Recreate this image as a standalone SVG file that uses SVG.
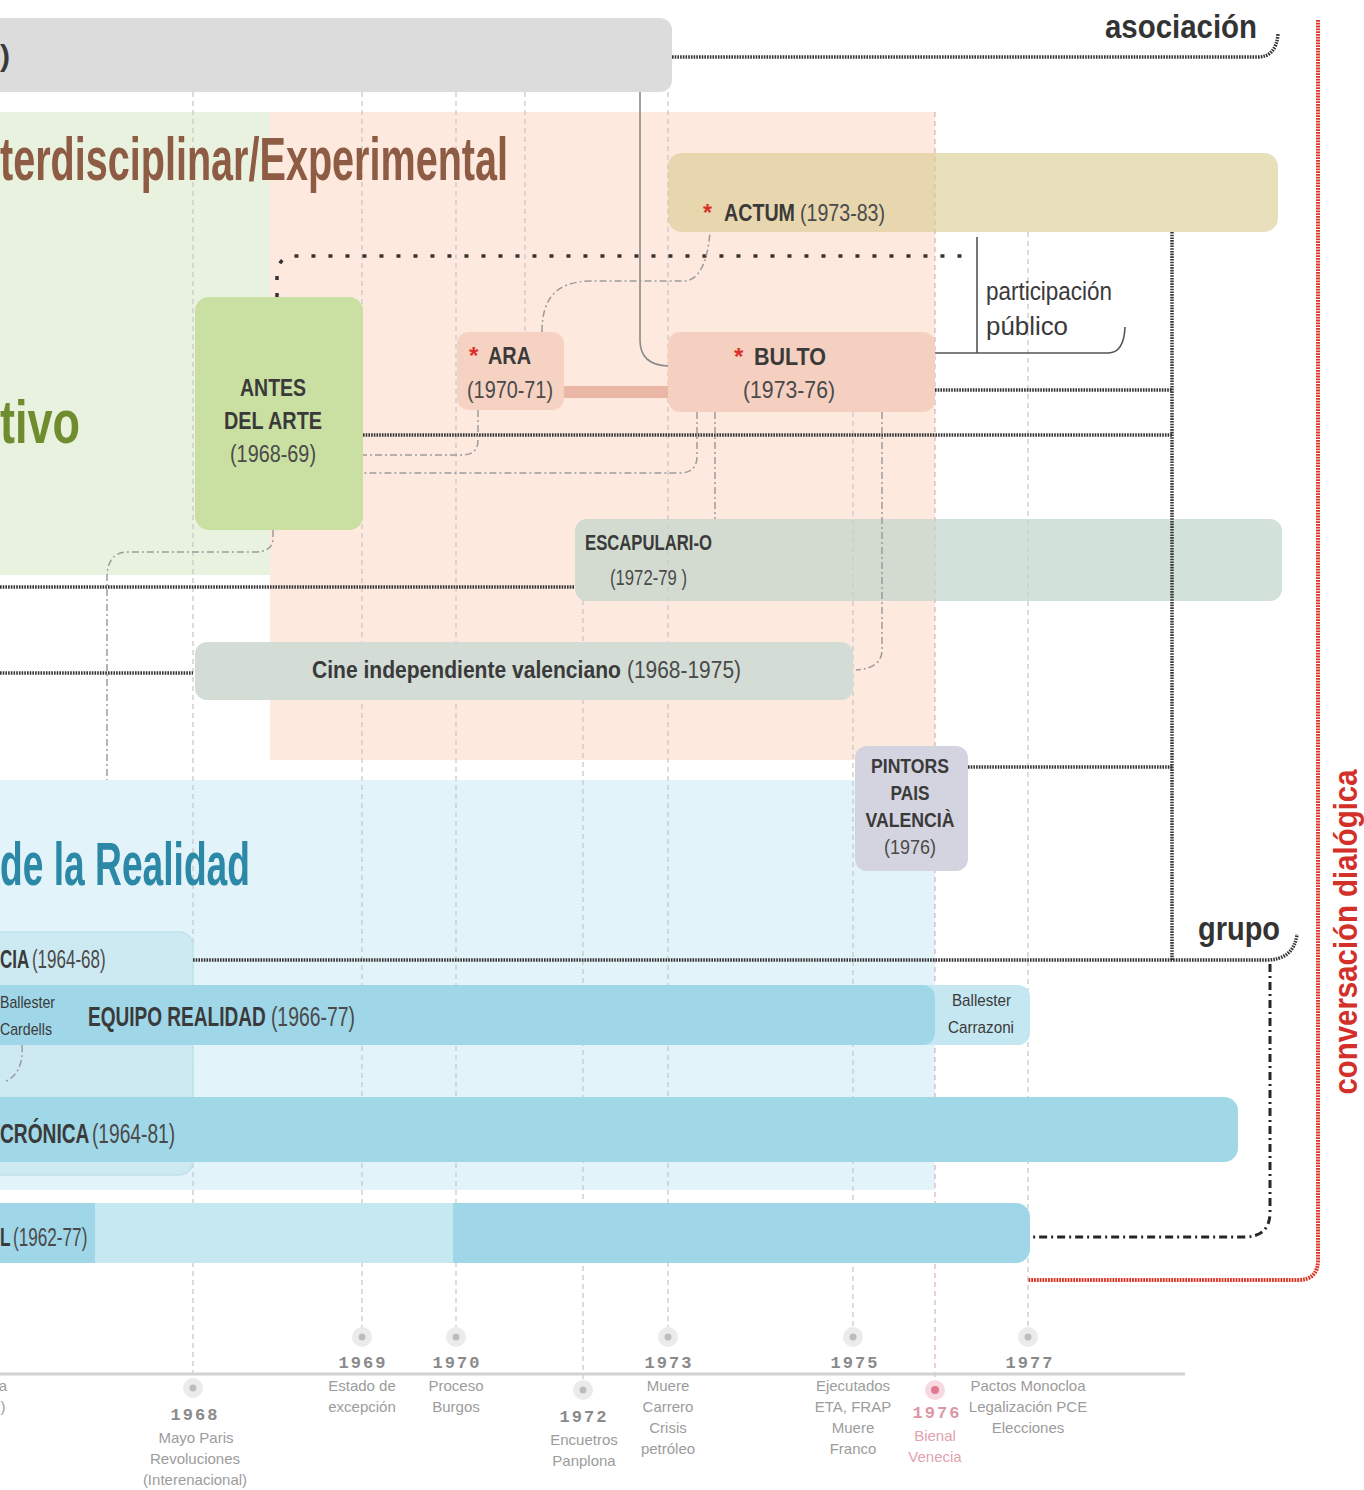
<svg xmlns="http://www.w3.org/2000/svg" width="1364" height="1490" viewBox="0 0 1364 1490">
<defs>
<style>
.t{font-family:"Liberation Sans",Arial,sans-serif;}
.bd{font-weight:bold;}
.lbl{fill:#3a3a3a;}
.rg{font-weight:normal;fill:#4a4a4a;}
.ast{fill:#d9302a;font-weight:bold;}
.mid{text-anchor:middle;}
.grid{fill:none;stroke:#c6c6c6;stroke-width:1.2;stroke-dasharray:5 4;}
.dot{fill:none;stroke:#343434;stroke-width:3.5;stroke-dasharray:1.6 1.1;}
.dd{fill:none;stroke:#9c9c9c;stroke-width:1.5;stroke-dasharray:7 3 2 3;}
.yr{font-family:"Liberation Mono","DejaVu Sans Mono",monospace;font-weight:bold;font-size:17px;fill:#8a8a8a;letter-spacing:2px;text-anchor:middle;}
.ev{font-family:"Liberation Sans",Arial,sans-serif;font-size:15px;fill:#9c9c9c;text-anchor:middle;}
.halo{fill:#ebebeb;}
.core{fill:#bdbdbd;}
</style>
</defs>
<rect x="0" y="0" width="1364" height="1490" fill="#ffffff"/>

<!-- zones -->
<g id="zones">
  <rect id="zone-green" x="0" y="112" width="270" height="463" fill="#e9f2de"/>
  <rect id="zone-pink" x="270" y="112" width="665" height="648" fill="#fde9de"/>
  <rect id="zone-blue" x="0" y="780" width="935" height="410" fill="#e2f3f9"/>
</g>

<!-- year grid lines -->
<g id="grid">
  <path class="grid" d="M193,92 V1380"/>
  <path class="grid" d="M362,92 V1328"/>
  <path class="grid" d="M456,92 V1328"/>
  <path class="grid" d="M525,92 V332"/>
  <path class="grid" d="M583,600 V1382"/>
  <path class="grid" d="M668,92 V1328"/>
  <path class="grid" d="M853,412 V1328"/>
  <path class="grid" d="M935,112 V1382" style="stroke:#d9b3bb"/>
  <path class="grid" d="M1028,232 V1328"/>
</g>

<!-- titles -->
<g id="titles" class="t bd">
  <text x="0" y="180" font-size="62" fill="#8e5b45" textLength="508" lengthAdjust="spacingAndGlyphs">terdisciplinar/Experimental</text>
  <text x="0" y="443" font-size="62" fill="#6f8d2f" textLength="80" lengthAdjust="spacingAndGlyphs">tivo</text>
  <text x="0" y="885" font-size="62" fill="#2b88a6" textLength="250" lengthAdjust="spacingAndGlyphs">de la Realidad</text>
</g>

<!-- nodes -->
<g id="node-asociacion-bar">
  <rect x="-20" y="18" width="692" height="74" rx="12" fill="#dcdcdc"/>
  <text class="t bd lbl" x="0" y="66" font-size="30">)</text>
</g>

<g id="node-actum">
  <rect x="668" y="153" width="610" height="79" rx="14" fill="#d9c98e" fill-opacity="0.6"/>
  <text class="t ast" x="703" y="221" font-size="23">*</text>
  <g transform="translate(724,221) scale(0.855,1)">
    <text class="t bd lbl" x="0" y="0" font-size="23" textLength="83" lengthAdjust="spacingAndGlyphs">ACTUM</text>
    <text class="t rg" x="88.9" y="0" font-size="23" textLength="99.4" lengthAdjust="spacingAndGlyphs">(1973-83)</text>
  </g>
</g>

<g id="node-antes">
  <rect x="195" y="297" width="168" height="233" rx="14" fill="#c9e0a2"/>
  <text class="t bd lbl mid" x="273" y="396" font-size="23" textLength="66" lengthAdjust="spacingAndGlyphs">ANTES</text>
  <text class="t bd lbl mid" x="273" y="429" font-size="23" textLength="98" lengthAdjust="spacingAndGlyphs">DEL ARTE</text>
  <text class="t rg mid" x="273" y="462" font-size="23" textLength="86" lengthAdjust="spacingAndGlyphs">(1968-69)</text>
</g>

<g id="node-ara">
  <rect x="457" y="332" width="107" height="78" rx="12" fill="#f6d2c2"/>
  <text class="t ast" x="469" y="364" font-size="24">*</text>
  <text class="t bd lbl" x="488" y="364" font-size="24" textLength="43" lengthAdjust="spacingAndGlyphs">ARA</text>
  <text class="t rg mid" x="510" y="398" font-size="24" textLength="86" lengthAdjust="spacingAndGlyphs">(1970-71)</text>
</g>

<g id="node-bulto">
  <rect x="668" y="332" width="267" height="80" rx="12" fill="#f5d0c1"/>
  <text class="t ast" x="734" y="365" font-size="24">*</text>
  <text class="t bd lbl" x="754" y="365" font-size="24" textLength="72" lengthAdjust="spacingAndGlyphs">BULTO</text>
  <text class="t rg mid" x="789" y="398" font-size="24" textLength="92" lengthAdjust="spacingAndGlyphs">(1973-76)</text>
</g>

<g id="node-escapulario">
  <rect x="575" y="519" width="707" height="82" rx="12" fill="#c0d4cc" fill-opacity="0.7"/>
  <text class="t bd lbl" x="585" y="550" font-size="22" textLength="127" lengthAdjust="spacingAndGlyphs">ESCAPULARI-O</text>
  <text class="t rg" x="610" y="585" font-size="22" textLength="77" lengthAdjust="spacingAndGlyphs">(1972-79 )</text>
</g>

<g id="node-cine">
  <rect x="195" y="642" width="658" height="58" rx="12" fill="#d3dcd5"/>
  <g transform="translate(312,678) scale(0.875,1)">
    <text class="t bd lbl" x="0" y="0" font-size="24" textLength="353" lengthAdjust="spacingAndGlyphs">Cine independiente valenciano</text>
    <text class="t rg" x="360" y="0" font-size="24" textLength="130.3" lengthAdjust="spacingAndGlyphs">(1968-1975)</text>
  </g>
</g>

<g id="node-pintors">
  <rect x="855" y="746" width="113" height="125" rx="12" fill="#d4d4e0"/>
  <text class="t bd lbl mid" x="910" y="773" font-size="21" textLength="78" lengthAdjust="spacingAndGlyphs">PINTORS</text>
  <text class="t bd lbl mid" x="910" y="800" font-size="21" textLength="39" lengthAdjust="spacingAndGlyphs">PAIS</text>
  <text class="t bd lbl mid" x="910" y="827" font-size="21" textLength="89" lengthAdjust="spacingAndGlyphs">VALENCIÀ</text>
  <text class="t rg mid" x="910" y="854" font-size="21" textLength="52" lengthAdjust="spacingAndGlyphs">(1976)</text>
</g>

<g id="node-estampa">
  <rect x="-20" y="932" width="213" height="243" rx="14" fill="#cdeaf3" stroke="#bfe2ed" stroke-width="1.5"/>
  <g transform="translate(0,968) scale(0.68,1)">
    <text class="t bd lbl" x="0" y="0" font-size="25" textLength="43" lengthAdjust="spacingAndGlyphs">CIA</text>
    <text class="t rg" x="47" y="0" font-size="25" textLength="108.4" lengthAdjust="spacingAndGlyphs">(1964-68)</text>
  </g>
</g>

<g id="node-equipo-realidad">
  <rect x="900" y="985" width="130" height="60" rx="12" fill="#c4e7f1"/>
  <rect x="-20" y="985" width="955" height="60" rx="12" fill="#9fd7e8"/>
  <text class="t lbl" x="0" y="1008" font-size="17" textLength="55" lengthAdjust="spacingAndGlyphs">Ballester</text>
  <text class="t lbl" x="0" y="1035" font-size="17" textLength="52" lengthAdjust="spacingAndGlyphs">Cardells</text>
  <g transform="translate(88,1026) scale(0.68,1)">
    <text class="t bd lbl" x="0" y="0" font-size="28" textLength="261.4" lengthAdjust="spacingAndGlyphs">EQUIPO REALIDAD</text>
    <text class="t rg" x="269" y="0" font-size="28" textLength="123.5" lengthAdjust="spacingAndGlyphs">(1966-77)</text>
  </g>
  <text class="t lbl" x="952" y="1006" font-size="17" textLength="59" lengthAdjust="spacingAndGlyphs">Ballester</text>
  <text class="t lbl" x="948" y="1033" font-size="17" textLength="66" lengthAdjust="spacingAndGlyphs">Carrazoni</text>
</g>

<g id="node-cronica">
  <rect x="-20" y="1097" width="1258" height="65" rx="14" fill="#a0d8e8"/>
  <g transform="translate(0,1143) scale(0.685,1)">
    <text class="t bd lbl" x="0" y="0" font-size="28" textLength="130.6" lengthAdjust="spacingAndGlyphs">CRÓNICA</text>
    <text class="t rg" x="134.3" y="0" font-size="28" textLength="121.4" lengthAdjust="spacingAndGlyphs">(1964-81)</text>
  </g>
</g>

<g id="node-l">
  <rect x="-20" y="1203" width="1050" height="60" rx="14" fill="#9fd7e8"/>
  <rect x="95" y="1203" width="358" height="60" fill="#c6e8f1"/>
  <g transform="translate(0,1246) scale(0.66,1)">
    <text class="t bd lbl" x="0" y="0" font-size="26" textLength="15.9" lengthAdjust="spacingAndGlyphs">L</text>
    <text class="t rg" x="19.7" y="0" font-size="26" textLength="112.7" lengthAdjust="spacingAndGlyphs">(1962-77)</text>
  </g>
</g>

<!-- connectors -->
<g id="connectors">
  <!-- asociación -->
  <path class="dot" d="M672,57 H1258 Q1276,57 1278,34"/>
  <!-- grupo -->
  <path class="dot" d="M193,960 H1266 Q1294,960 1297,934"/>
  <!-- vertical collector -->
  <path class="dot" d="M1172,232 V960"/>
  <path class="dot" d="M935,390 H1172"/>
  <path class="dot" d="M363,435 H1172"/>
  <path class="dot" d="M968,767 H1172"/>
  <path class="dot" d="M0,587 H575"/>
  <path class="dot" d="M0,673 H193"/>
  <!-- grupo to L -->
  <path d="M1270,964 V1212 Q1270,1237 1244,1237 H1030" fill="none" stroke="#262626" stroke-width="3" stroke-dasharray="8 4 2 4"/>
  <!-- conversación dialógica -->
  <path d="M1318,20 V1260 Q1318,1280 1298,1280 H1028" fill="none" stroke="#dd3326" stroke-width="4" stroke-dasharray="1.8 1"/>
  <!-- participación público -->
  <path d="M277,297 V276 Q277,257 294,256 H970" fill="none" stroke="#333" stroke-width="3.5" stroke-dasharray="4 13"/>
  <path d="M977,237 V353 M935,353 H1108 Q1124,353 1125,327" fill="none" stroke="#555" stroke-width="1.6"/>
  <!-- ARA - BULTO -->
  <rect x="564" y="386" width="104" height="12" fill="#e9b7a3"/>
  <!-- grey solid from top bar to BULTO -->
  <path d="M640,92 V340 Q640,365 668,366" fill="none" stroke="#8a8a8a" stroke-width="1.6"/>
  <!-- dashed influence lines -->
  <path class="dd" d="M542,332 C542,298 556,282 590,281 H684 Q706,280 710,232"/>
  <path class="dd" d="M478,410 V440 Q478,455 462,455 H363"/>
  <path class="dd" d="M697,412 V456 Q697,473 680,473 H363"/>
  <path class="dd" d="M715,412 V519"/>
  <path class="dd" d="M882,412 V650 Q882,668 856,670"/>
  <path class="dd" d="M273,530 V538 Q273,552 255,552 H125 Q107,554 107,578 V780"/>
  <path class="dd" d="M22,1045 Q24,1074 4,1082"/>
</g>

<!-- edge labels -->
<g id="labels" class="t">
  <text class="bd" x="1105" y="38" font-size="34" fill="#333" textLength="152" lengthAdjust="spacingAndGlyphs">asociación</text>
  <text class="bd" x="1198" y="940" font-size="34" fill="#333" textLength="82" lengthAdjust="spacingAndGlyphs">grupo</text>
  <text x="986" y="300" font-size="26" fill="#3a3a3a" textLength="126" lengthAdjust="spacingAndGlyphs">participación</text>
  <text x="986" y="335" font-size="26" fill="#3a3a3a" textLength="82" lengthAdjust="spacingAndGlyphs">público</text>
  <text class="bd mid" transform="translate(1357,932) rotate(-90)" font-size="33" fill="#d3302a" textLength="325" lengthAdjust="spacingAndGlyphs">conversación dialógica</text>
</g>

<!-- timeline -->
<g id="timeline">
  <path d="M0,1374 H1185" stroke="#d2d2d2" stroke-width="3" fill="none"/>
  <text class="ev" x="3" y="1391">a</text>
  <text class="ev" x="3" y="1412">)</text>

  <g id="ev-1968">
    <circle class="halo" cx="193" cy="1388" r="10"/><circle class="core" cx="193" cy="1388" r="3.5"/>
    <text class="yr" x="195" y="1420">1968</text>
    <text class="ev" x="196" y="1443">Mayo Paris</text>
    <text class="ev" x="195" y="1464">Revoluciones</text>
    <text class="ev" x="195" y="1485">(Interenacional)</text>
  </g>
  <g id="ev-1969">
    <circle class="halo" cx="362" cy="1337" r="10"/><circle class="core" cx="362" cy="1337" r="3.5"/>
    <text class="yr" x="363" y="1368">1969</text>
    <text class="ev" x="362" y="1391">Estado de</text>
    <text class="ev" x="362" y="1412">excepción</text>
  </g>
  <g id="ev-1970">
    <circle class="halo" cx="456" cy="1337" r="10"/><circle class="core" cx="456" cy="1337" r="3.5"/>
    <text class="yr" x="457" y="1368">1970</text>
    <text class="ev" x="456" y="1391">Proceso</text>
    <text class="ev" x="456" y="1412">Burgos</text>
  </g>
  <g id="ev-1972">
    <circle class="halo" cx="583" cy="1390" r="10"/><circle class="core" cx="583" cy="1390" r="3.5"/>
    <text class="yr" x="584" y="1422">1972</text>
    <text class="ev" x="584" y="1445">Encuetros</text>
    <text class="ev" x="584" y="1466">Panplona</text>
  </g>
  <g id="ev-1973">
    <circle class="halo" cx="668" cy="1337" r="10"/><circle class="core" cx="668" cy="1337" r="3.5"/>
    <text class="yr" x="669" y="1368">1973</text>
    <text class="ev" x="668" y="1391">Muere</text>
    <text class="ev" x="668" y="1412">Carrero</text>
    <text class="ev" x="668" y="1433">Crisis</text>
    <text class="ev" x="668" y="1454">petróleo</text>
  </g>
  <g id="ev-1975">
    <circle class="halo" cx="853" cy="1337" r="10"/><circle class="core" cx="853" cy="1337" r="3.5"/>
    <text class="yr" x="855" y="1368">1975</text>
    <text class="ev" x="853" y="1391">Ejecutados</text>
    <text class="ev" x="853" y="1412">ETA, FRAP</text>
    <text class="ev" x="853" y="1433">Muere</text>
    <text class="ev" x="853" y="1454">Franco</text>
  </g>
  <g id="ev-1976">
    <circle cx="935" cy="1390" r="10" fill="#f7d9df"/><circle cx="935" cy="1390" r="4" fill="#e07a90"/>
    <text class="yr" x="937" y="1418" style="fill:#dc97a6">1976</text>
    <text class="ev" x="935" y="1441" style="fill:#e2a2b0">Bienal</text>
    <text class="ev" x="935" y="1462" style="fill:#e2a2b0">Venecia</text>
  </g>
  <g id="ev-1977">
    <circle class="halo" cx="1028" cy="1337" r="10"/><circle class="core" cx="1028" cy="1337" r="3.5"/>
    <text class="yr" x="1030" y="1368">1977</text>
    <text class="ev" x="1028" y="1391">Pactos Monocloa</text>
    <text class="ev" x="1028" y="1412">Legalización PCE</text>
    <text class="ev" x="1028" y="1433">Elecciones</text>
  </g>
</g>
</svg>
